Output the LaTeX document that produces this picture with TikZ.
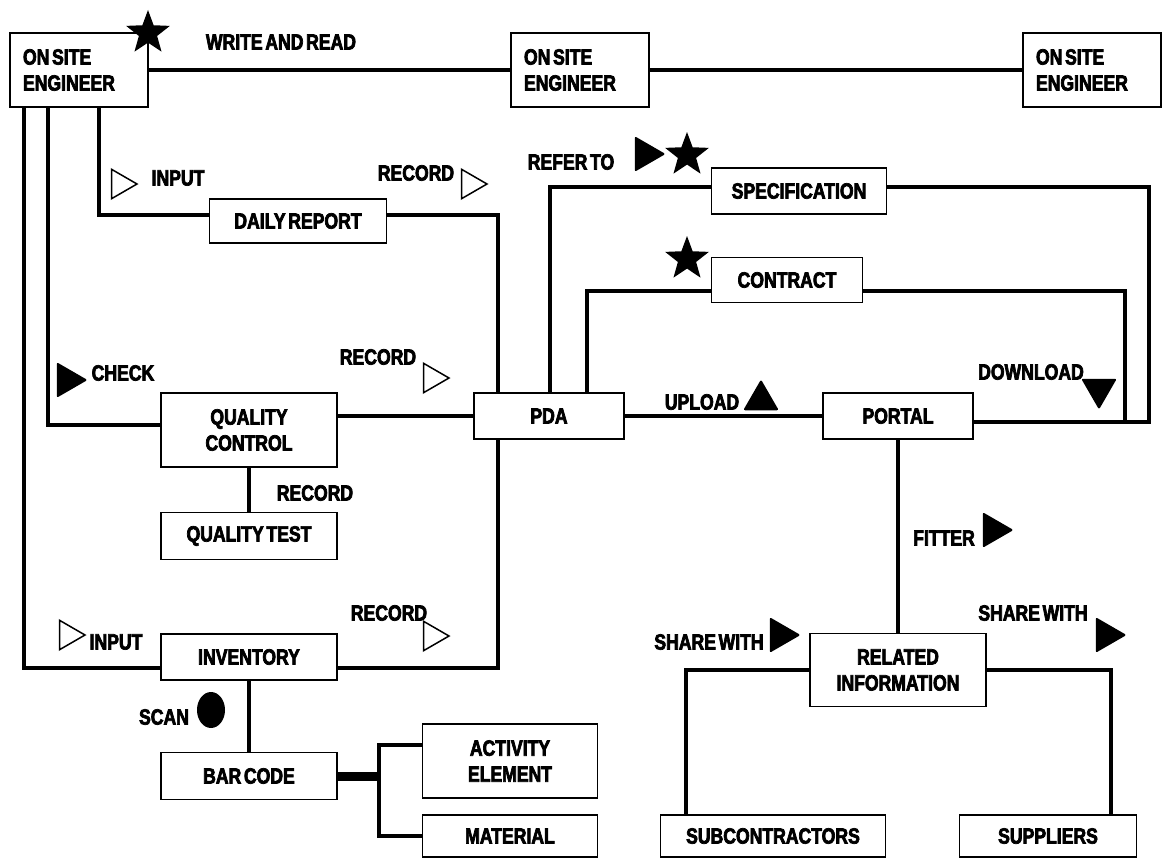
\documentclass[tikz,border=0pt]{standalone}
\usepackage{fontspec}
\newfontfamily\boxfont[FakeStretch=0.8,WordSpace=0.55,BoldFeatures={FakeBold=3.2}]{Liberation Sans}
\usetikzlibrary{shapes.geometric}

\begin{document}
\begin{tikzpicture}[x=1pt,y=-1pt,
    font=\boxfont\bfseries\fontsize{22}{26}\selectfont,
    blk/.style={rectangle, draw, line width=1.5pt, fill=white, align=center, inner sep=0pt},
    eng/.style={blk, minimum height=74pt, text width=112pt, align=flush left, inner xsep=13pt},
    wire/.style={line width=4.5pt},
    lbl/.style={inner sep=0pt},
    opentri/.style={regular polygon, regular polygon sides=3, shape border rotate=-90,
      inner sep=0pt, minimum size=34pt, draw, line width=1.5pt},
    solidtri/.style={regular polygon, regular polygon sides=3, inner sep=0pt,
      minimum size=41pt, fill, rounded corners=2pt},
    bigstar/.style={star, star points=5, star point ratio=2.4, inner sep=0pt,
      minimum size=46pt, fill}]
  \useasboundingbox (0,0) rectangle (1162,859);

  % boxes
  \node [eng] (ose1) at (79,70) {ON SITE\\ENGINEER};
  \node [eng] (ose2) at (580,70) {ON SITE\\ENGINEER};
  \node [eng] (ose3) at (1092,70) {ON SITE\\ENGINEER};
  \node [blk, minimum width=177pt, minimum height=44pt] (daily) at (298,221) {DAILY REPORT};
  \node [blk, minimum width=176pt, minimum height=74pt] (qc) at (249,430) {QUALITY\\CONTROL};
  \node [blk, minimum width=176pt, minimum height=47pt] (qt) at (249,536) {QUALITY TEST};
  \node [blk, minimum width=176pt, minimum height=46pt] (inv) at (249,657) {INVENTORY};
  \node [blk, minimum width=176pt, minimum height=47pt] (bar) at (249,776) {BAR CODE};
  \node [blk, minimum width=175pt, minimum height=74pt] (act) at (510,761) {ACTIVITY\\ELEMENT};
  \node [blk, minimum width=175pt, minimum height=42pt] (mat) at (510,836) {MATERIAL};
  \node [blk, minimum width=150pt, minimum height=46pt] (pda) at (549,416) {PDA};
  \node [blk, minimum width=150pt, minimum height=46pt] (portal) at (898,416) {PORTAL};
  \node [blk, minimum width=175pt, minimum height=46pt] (spec) at (799,191) {SPECIFICATION};
  \node [blk, minimum width=151pt, minimum height=45pt] (contract) at (787,280) {CONTRACT};
  \node [blk, minimum width=176pt, minimum height=73pt] (ri) at (898,670) {RELATED\\INFORMATION};
  \node [blk, minimum width=225pt, minimum height=42pt] (sub) at (773,836) {SUBCONTRACTORS};
  \node [blk, minimum width=177pt, minimum height=42pt] (sup) at (1048,836) {SUPPLIERS};
  \coordinate (tap) at (379,776);

  % connectors
  \draw [wire] (ose1.east) -- (ose2.west);
  \draw [wire] (ose2.east) -- (ose3.west);
  \draw [wire] ([xshift=-55pt]ose1.south) |- ([yshift=-11pt]inv.west);
  \draw [wire] ([xshift=-31pt]ose1.south) |- ([yshift=5pt]qc.west);
  \draw [wire] ([xshift=20pt]ose1.south) |- ([yshift=6pt]daily.west);
  \draw [wire] ([yshift=6pt]daily.east) -| ([xshift=-51pt]pda.north);
  \draw [wire] ([yshift=-11pt]inv.east) -| ([xshift=-51pt]pda.south);
  \draw [wire] (qc.east |- pda.west) -- (pda.west);
  \draw [wire] (qc.south) -- (qt.north);
  \draw [wire] (inv.south) -- (bar.north);
  \draw [line width=9pt] (bar.east) -- (tap);
  \draw [wire] ([yshift=16pt]act.west) -| (tap) |- (mat.west);
  \draw [wire] ([xshift=1pt]pda.north) |- ([yshift=4pt]spec.west);
  \draw [wire] ([yshift=4pt]spec.east) -| ([xshift=175pt,yshift=-6pt]portal.east) -- ([yshift=-6pt]portal.east);
  \draw [wire] ([xshift=38pt]pda.north) |- ([yshift=-11pt]contract.west);
  \draw [wire] ([yshift=-11pt]contract.east) -| ([xshift=151pt,yshift=-6pt]portal.east);
  \draw [wire] (pda.east) -- (portal.west);
  \draw [wire] (portal.south) -- (ri.north);
  \draw [wire] (ri.west) -| ([xshift=-87pt]sub.north);
  \draw [wire] (ri.east) -| ([xshift=63pt]sup.north);

  % labels and marks
  \node [bigstar] (star1) at (148,33) {};
  \node [lbl] (wrlbl) at (281,42) {WRITE AND READ};
  \node [opentri] (intri1) at (120,184) {};
  \node [lbl] (inlbl1) at (178,178) {INPUT};
  \node [lbl] (reclbl1) at (416,173) {RECORD};
  \node [opentri] (rectri1) at (470,184) {};
  \node [lbl] (reflbl) at (571,162) {REFER TO};
  \node [solidtri, shape border rotate=-90] (reftri) at (645,154) {};
  \node [bigstar] (star2) at (687,155) {};
  \node [bigstar] (star3) at (687,259) {};
  \node [solidtri, shape border rotate=-90] (chktri) at (67,380) {};
  \node [lbl] (chklbl) at (123,373) {CHECK};
  \node [lbl] (reclbl2) at (378,357) {RECORD};
  \node [opentri] (rectri2) at (432,378) {};
  \node [lbl] (reclbl3) at (315,493) {RECORD};
  \node [opentri] (intri2) at (68,635) {};
  \node [lbl] (inlbl2) at (116,642) {INPUT};
  \node [lbl] (reclbl4) at (389,613) {RECORD};
  \node [opentri] (rectri4) at (432,636) {};
  \node [lbl] (scanlbl) at (164,717) {SCAN};
  \node [ellipse, fill, inner sep=0pt, minimum width=28pt, minimum height=36pt] (scandot) at (211,710) {};
  \node [lbl] (uplbl) at (702,402) {UPLOAD};
  \node [solidtri] (uptri) at (761,400) {};
  \node [lbl] (downlbl) at (1031,372) {DOWNLOAD};
  \node [solidtri, shape border rotate=180] (downtri) at (1099,389) {};
  \node [lbl] (fitlbl) at (944,538) {FITTER};
  \node [solidtri, shape border rotate=-90] (fittri) at (993,530) {};
  \node [lbl] (sharelbl1) at (709,642) {SHARE WITH};
  \node [solidtri, shape border rotate=-90] (sharetri1) at (780,635) {};
  \node [lbl] (sharelbl2) at (1033,613) {SHARE WITH};
  \node [solidtri, shape border rotate=-90] (sharetri2) at (1106,635) {};
\end{tikzpicture}
\end{document}
